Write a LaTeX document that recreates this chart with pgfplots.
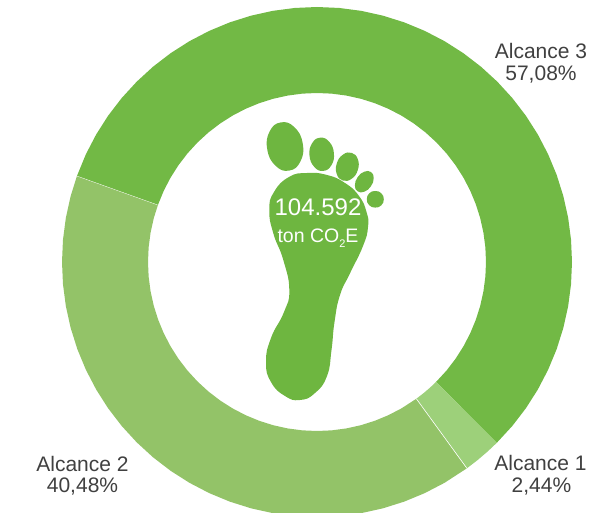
\documentclass[border=0pt]{standalone}
\usepackage{fontspec}
\setmainfont{Liberation Sans}
\usepackage{pgfplots}
\pgfplotsset{compat=1.18}
\definecolor{aThree}{HTML}{72B945}
\definecolor{aTwo}{HTML}{93C368}
\definecolor{aOne}{HTML}{9DD07A}
\definecolor{foot}{HTML}{6EB640}
\definecolor{lab}{HTML}{404040}
\newcommand{\lbl}{\fontsize{21bp}{22bp}\selectfont}
\begin{document}
\begin{tikzpicture}
\useasboundingbox (0,0) rectangle (591bp,513bp);
\begin{axis}[
  at={(0,0)}, anchor=south west,
  scale only axis, width=591bp, height=513bp,
  xmin=-317, xmax=274, ymin=-251, ymax=262,
  hide axis, clip=true,
]
% Alcance 3: 57,08 %
\addplot[draw=none, fill=aThree, data cs=polar] coordinates {
(160.3,255)(155,255)(150,255)(145,255)(140,255)(135,255)(130,255)(125,255)(120,255)(115,255)(110,255)(105,255)(100,255)(95,255)(90,255)(85,255)(80,255)(75,255)(70,255)(65,255)(60,255)(55,255)(50,255)(45,255)(40,255)(35,255)(30,255)(25,255)(20,255)(15,255)(10,255)(5,255)(0,255)(-5,255)(-10,255)(-15,255)(-20,255)(-25,255)(-30,255)(-35,255)(-40,255)(-45.2,255)
(-45.2,169)(-40,169)(-35,169)(-30,169)(-25,169)(-20,169)(-15,169)(-10,169)(-5,169)(0,169)(5,169)(10,169)(15,169)(20,169)(25,169)(30,169)(35,169)(40,169)(45,169)(50,169)(55,169)(60,169)(65,169)(70,169)(75,169)(80,169)(85,169)(90,169)(95,169)(100,169)(105,169)(110,169)(115,169)(120,169)(125,169)(130,169)(135,169)(140,169)(145,169)(150,169)(155,169)(160.3,169)
} --cycle;
% Alcance 1: 2,44 %
\addplot[draw=none, fill=aOne, data cs=polar] coordinates {
(-45.2,255)(-48,255)(-51,255)(-54,255)(-54,169)(-51,169)(-48,169)(-45.2,169)
} --cycle;
% Alcance 2: 40,48 %
\addplot[draw=none, fill=aTwo, data cs=polar] coordinates {
(-54,255)(-60,255)(-65,255)(-70,255)(-75,255)(-80,255)(-85,255)(-90,255)(-95,255)(-100,255)(-105,255)(-110,255)(-115,255)(-120,255)(-125,255)(-130,255)(-135,255)(-140,255)(-145,255)(-150,255)(-155,255)(-160,255)(-165,255)(-170,255)(-175,255)(-180,255)(-185,255)(-190,255)(-195,255)(-199.7,255)
(-199.7,169)(-195,169)(-190,169)(-185,169)(-180,169)(-175,169)(-170,169)(-165,169)(-160,169)(-155,169)(-150,169)(-145,169)(-140,169)(-135,169)(-130,169)(-125,169)(-120,169)(-115,169)(-110,169)(-105,169)(-100,169)(-95,169)(-90,169)(-85,169)(-80,169)(-75,169)(-70,169)(-65,169)(-60,169)(-54,169)
} --cycle;
% separators
\addplot[draw=white, line width=0.6pt, data cs=polar] coordinates {(-54,169)(-54,255)};
\addplot[draw=white, line width=0.25pt, data cs=polar] coordinates {(160.3,169)(160.3,255)};
% foot
\addplot[draw=none, fill=foot, smooth cycle, tension=0.85] coordinates {
(-10,89)(10,87)(28,79)(42,66)(49.5,50)(51,35)(46,16)(33,-11.3)(23,-33)(17.5,-60)(14.5,-88)(10,-114)(-2,-131)(-17,-138)(-32,-134)(-46,-120)(-51,-100)(-46,-76)(-33,-50)(-27.7,-28)(-33.7,2)(-43.7,28.7)(-47.7,52)(-43,70)(-28,85)
};
\addplot[draw=none, fill=foot, smooth cycle, tension=0.8] coordinates {
(-36.2,139.6)(-22.5,134.7)(-14.3,118.6)(-16.5,100.7)(-27.8,91.4)(-41.5,96.3)(-49.7,112.4)(-47.5,130.3)
};
\addplot[draw=none, fill=foot, smooth cycle, tension=0.8] coordinates {
(3.2,124.3)(12.2,120.2)(16.9,108.8)(14.4,96.8)(6.2,91.1)(-2.8,95.2)(-7.5,106.6)(-5,118.6)
};
\addplot[draw=none, fill=foot, smooth cycle, tension=0.8] coordinates {
(34.7,109.1)(40.8,102.8)(40.8,92)(34.6,83.2)(25.9,81.5)(19.8,87.8)(19.8,98.6)(26,107.4)
};
\addplot[draw=none, fill=foot, smooth cycle, tension=0.8] coordinates {
(54,89.9)(56.7,83.9)(53.9,75.7)(47.3,70.3)(40.6,70.7)(37.9,76.7)(40.7,84.9)(47.3,90.3)
};
\addplot[draw=none, fill=foot, smooth cycle, tension=0.8] coordinates {
(58.3,71)(64.3,68.7)(66.8,62.7)(64.3,56.7)(58.3,54.4)(52.3,56.7)(49.8,62.7)(52.3,68.7)
};
% centre text
\node[white, anchor=base, inner sep=0pt, font=\fontsize{24bp}{26bp}\selectfont] at (axis cs:1,46) {104.592};
\node[white, anchor=base, inner sep=0pt, font=\fontsize{19.5bp}{22bp}\selectfont] at (axis cs:1,19.3) {ton CO\raisebox{-4.5bp}{\fontsize{11bp}{11bp}\selectfont 2}E};
% labels
\node[lab, anchor=base, inner sep=0pt, font=\lbl] at (axis cs:224,203.7) {Alcance 3};
\node[lab, anchor=base, inner sep=0pt, font=\lbl] at (axis cs:224,181.8) {57,08\%};
\node[lab, anchor=base, inner sep=0pt, font=\lbl] at (axis cs:223.5,-209) {Alcance 1};
\node[lab, anchor=base, inner sep=0pt, font=\lbl] at (axis cs:224.5,-230.7) {2,44\%};
\node[lab, anchor=base, inner sep=0pt, font=\lbl] at (axis cs:-234.5,-209.7) {Alcance 2};
\node[lab, anchor=base, inner sep=0pt, font=\lbl] at (axis cs:-234.5,-230.2) {40,48\%};
\end{axis}
\end{tikzpicture}
\end{document}
